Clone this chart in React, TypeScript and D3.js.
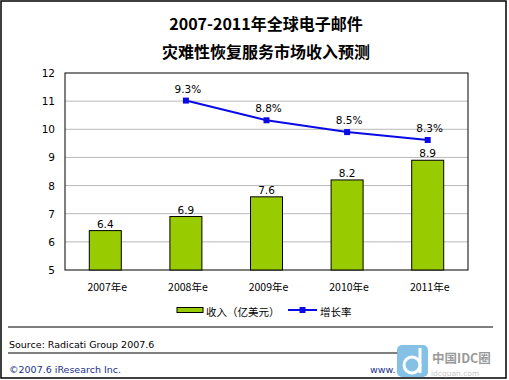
import React from "react";
import * as d3 from "d3";

const categories = ["2007年e", "2008年e", "2009年e", "2010年e", "2011年e"];
const revenue = [6.4, 6.9, 7.6, 8.2, 8.9];
const growthCats = ["2008年e", "2009年e", "2010年e", "2011年e"];
const growth = [9.3, 8.8, 8.5, 8.3];
const yTicks = [5, 6, 7, 8, 9, 10, 11, 12];
const titleLines = ["2007-2011年全球电子邮件", "灾难性恢复服务市场收入预测"];
const legendLabels = ["收入（亿美元）", "增长率"];
const sourceText = "Source: Radicati Group 2007.6";
const copyrightText = "©2007.6 iResearch Inc.";

const W = 509;
const H = 380;
const plot = { left: 65, right: 468, top: 73, bottom: 270 };
const font = "'DejaVu Sans', Verdana, sans-serif";
const cjk = "'Noto Sans CJK SC', 'DejaVu Sans', sans-serif";
const green = "#99cc00";
const blue = "#0a0ae6";

export default function App() {
  const x = d3.scaleBand<string>().domain(categories).range([plot.left, plot.right]).paddingInner(0).paddingOuter(0);
  const y = d3.scaleLinear().domain([5, 12]).range([plot.bottom, plot.top]);
  const y2 = d3.scaleLinear().domain([5, 10]).range([plot.bottom, plot.top]);
  const barW = 32;
  const cx = (c: string) => (x(c) as number) + x.bandwidth() / 2;
  const linePts: [number, number][] = growthCats.map((c, i) => [cx(c), y2(growth[i])]);
  const line = d3.line()(linePts) || "";

  return (
    <svg width={W} height={H} style={{ position: "absolute", left: 0, top: 0 }}>
      <rect x={0} y={0} width={W} height={H} fill="#fff" />
      <rect x={1} y={1} width={505} height={377} fill="none" stroke="#000" strokeWidth={1.5} />
      {titleLines.map((t, i) => (
        <text key={i} x={266} y={30 + i * 28} textAnchor="middle" fontFamily={cjk} fontWeight="bold" fontSize={16} fill="#000">
          {t}
        </text>
      ))}
      {yTicks.slice(1, -1).map((t) => (
        <line key={t} x1={plot.left} x2={plot.right} y1={y(t)} y2={y(t)} stroke="#b8b8b8" strokeWidth={1} />
      ))}
      <rect x={plot.left} y={plot.top} width={plot.right - plot.left} height={plot.bottom - plot.top} fill="none" stroke="#000" strokeWidth={1} />
      {yTicks.map((t) => (
        <text key={t} x={55} y={y(t) + 4} textAnchor="end" fontFamily={font} fontSize={10.5} fill="#000">
          {t}
        </text>
      ))}
      {categories.map((c, i) => (
        <g key={c}>
          <rect x={cx(c) - barW / 2} y={y(revenue[i])} width={barW} height={plot.bottom - y(revenue[i])} fill={green} stroke="#000" strokeWidth={1} />
          <text x={cx(c)} y={y(revenue[i]) - 3} textAnchor="middle" fontFamily={font} fontSize={10.5} fill="#000">
            {revenue[i].toFixed(1)}
          </text>
          <text x={cx(c) + 2} y={291} textAnchor="middle" fontFamily={cjk} fontSize={10.5} fill="#000">
            {c}
          </text>
        </g>
      ))}
      <path d={line} fill="none" stroke={blue} strokeWidth={2} />
      {linePts.map((p, i) => (
        <g key={i}>
          <rect x={p[0] - 3} y={p[1] - 3} width={6} height={6} fill={blue} />
          <text x={p[0] + 2} y={p[1] - 8} textAnchor="middle" fontFamily={font} fontSize={10.5} fill="#000">
            {growth[i].toFixed(1)}%
          </text>
        </g>
      ))}
      {/* legend */}
      <rect x={177} y={307.5} width={26} height={5} fill={green} stroke="#000" strokeWidth={1} />
      <text x={206} y={315.5} fontFamily={cjk} fontSize={10.5} fill="#000">{legendLabels[0]}</text>
      <line x1={288} x2={317} y1={310} y2={310} stroke={blue} strokeWidth={2} />
      <rect x={299.5} y={307} width={6} height={6} fill={blue} />
      <text x={320} y={315.5} fontFamily={cjk} fontSize={10.5} fill="#000">{legendLabels[1]}</text>
      {/* footer */}
      <line x1={8} x2={493} y1={327} y2={327} stroke="#000" strokeWidth={1} />
      <text x={9} y={348} fontFamily={font} fontSize={9.5} fill="#000">{sourceText}</text>
      <line x1={8} x2={398} y1={353} y2={353} stroke="#000" strokeWidth={1} />
      <text x={9} y={373} fontFamily={font} fontSize={9.5} fill="#1a2f8a">{copyrightText}</text>
      <text x={370} y={373} fontFamily={font} fontSize={9.5} fill="#1a2f8a">www.</text>
      {/* watermark */}
      <rect x={397} y={345} width={31} height={32} rx={5} fill="#6fb6e0" opacity={0.85} />
      <circle cx={412} cy={365} r={8} fill="none" stroke="#fff" strokeWidth={3} />
      <line x1={420} x2={420} y1={348} y2={373} stroke="#fff" strokeWidth={3} />
      <text x={432} y={363} fontFamily={cjk} fontWeight="bold" fontSize={12.5} fill="#9a9a9a">中国IDC圈</text>
      <text x={431} y={375.5} fontFamily={font} fontSize={7.5} fill="#c8c8c8">idcquan.com</text>
    </svg>
  );
}
